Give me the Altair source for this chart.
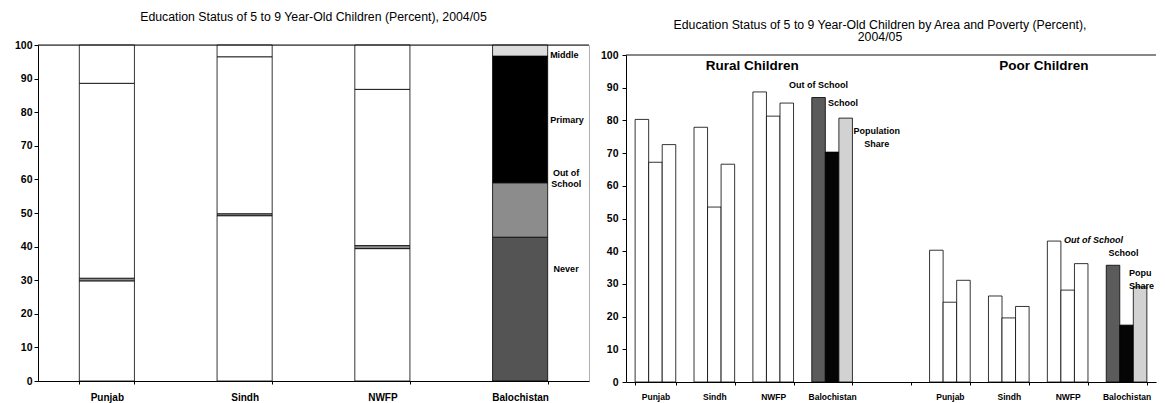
import altair as alt
import pandas as pd

# ---------------- data: left panel (stacked, percent) ----------------
provinces = ["Punjab", "Sindh", "NWFP", "Balochistan"]
segments = ["Never", "Out of School", "Primary", "Middle"]
never = [29.8, 49.2, 39.4, 42.8]
out_of_school = [0.8, 0.6, 0.9, 16.2]
primary = [58.0, 46.7, 46.5, 37.7]
middle = [11.4, 3.5, 13.2, 3.3]

left_labels = ["Middle", "Primary", "Out of\nSchool", "Never"]
left_label_y = [97.0, 77.7, 61.9, 33.3]

# ---------------- data: right panel (grouped) ----------------
groups = ["Rural", "Poor"]
group_titles = ["Rural Children", "Poor Children"]
series = ["Out of School", "School", "Population Share"]
rural_oos = [80.3, 77.9, 88.7, 87.0]
rural_school = [67.2, 53.5, 81.3, 70.3]
rural_pop = [72.6, 66.6, 85.3, 80.7]
poor_oos = [40.3, 26.3, 43.1, 35.7]
poor_school = [24.4, 19.6, 28.1, 17.4]
poor_pop = [31.1, 23.1, 36.2, 29.1]

right_notes = ["Out of School", "School", "Population\nShare"]
rural_note_y = [90.8, 85.3, 76.9]
poor_note_y = [43.4, 39.4, 33.3]
group_title_y = 96.5
frame_top = [100]

FONT = "Liberation Sans"

# ---------------- tables ----------------
seg_values = [never, out_of_school, primary, middle]
left_rows = []
for i, p in enumerate(provinces):
    for j, s in enumerate(segments):
        left_rows.append({"province": p, "segment": s, "order": j, "value": seg_values[j][i]})
left_df = pd.DataFrame(left_rows)

x_domain = [f"Rural {p}" for p in provinces] + ["gap"] + [f"Poor {p}" for p in provinces]
right_vals = {
    "Rural": [rural_oos, rural_school, rural_pop],
    "Poor": [poor_oos, poor_school, poor_pop],
}
right_rows = []
for g in groups:
    for i, p in enumerate(provinces):
        for k, s in enumerate(series):
            right_rows.append({"key": f"{g} {p}", "province": p, "series": s,
                               "value": right_vals[g][k][i]})
right_df = pd.DataFrame(right_rows)
frame_df = pd.DataFrame({"v": frame_top})

# ---------------- left chart ----------------
left_x_scale = alt.Scale(domain=provinces, paddingInner=0.6, paddingOuter=0.3)
left_y_scale = alt.Scale(domain=[0, 100], nice=False)
left_x_axis = alt.Axis(title=None, labelAngle=0, tickBand="extent", tickSize=3,
                       labelPadding=8, labelFontSize=10)
left_y_axis = alt.Axis(title=None, values=list(range(0, 101, 10)), tickSize=4,
                       labelPadding=2, labelFontSize=10.5, labelOverlap=False)

bars_left = alt.Chart(left_df).transform_calculate(
    lkey="datum.province == 'Balochistan' || datum.segment == 'Out of School' ? datum.segment : 'plain'"
).mark_bar(stroke="black", strokeWidth=0.8).encode(
    x=alt.X("province:N", scale=left_x_scale, axis=left_x_axis),
    y=alt.Y("value:Q", stack="zero", scale=left_y_scale, axis=left_y_axis),
    fill=alt.Fill("lkey:N", legend=None,
                  scale=alt.Scale(domain=segments + ["plain"],
                                  range=["#545454", "#8c8c8c", "#000000", "#dcdcdc", "#ffffff"])),
    order=alt.Order("order:Q"),
    detail="segment:N",
)

left_top = alt.Chart(frame_df).mark_rule(color="#111", strokeWidth=1).encode(
    y=alt.Y("v:Q", scale=left_y_scale, axis=left_y_axis)
)

ldf_a = pd.DataFrame({"province": ["Balochistan"] * 2, "t": left_labels[:2], "y": left_label_y[:2]})
ldf_b = pd.DataFrame({"province": ["Balochistan"] * 2, "t": left_labels[2:], "y": left_label_y[2:]})
notes_left_a = alt.Chart(ldf_a).mark_text(
    align="left", baseline="middle", dx=30, font=FONT, fontSize=9, fontWeight="bold", color="black"
).encode(x=alt.X("province:N", scale=left_x_scale, axis=left_x_axis),
         y=alt.Y("y:Q", scale=left_y_scale, axis=left_y_axis), text="t:N")
notes_left_b = alt.Chart(ldf_b).mark_text(
    align="center", baseline="middle", dx=46, font=FONT, fontSize=9, fontWeight="bold",
    color="black", lineBreak="\n", lineHeight=11
).encode(x=alt.X("province:N", scale=left_x_scale, axis=left_x_axis),
         y=alt.Y("y:Q", scale=left_y_scale, axis=left_y_axis), text="t:N")

left = alt.layer(bars_left, left_top, notes_left_a, notes_left_b).properties(
    width=551, height=336,
    view=alt.ViewBackground(stroke="#b0b0b0", strokeWidth=1),
    title=alt.TitleParams("Education Status of 5 to 9 Year-Old Children (Percent), 2004/05",
                          font=FONT, fontSize=12.3, fontWeight="normal", color="black",
                          anchor="middle", offset=17),
)

# ---------------- right chart ----------------
RW, RH = 530, 337
right_x_scale = alt.Scale(domain=x_domain, paddingInner=0.31, paddingOuter=0.155)
right_y_scale = alt.Scale(domain=[0, 100], nice=False, range=[RH, 10])
off_scale = alt.Scale(domain=series, paddingInner=0, paddingOuter=0)
right_x_axis = alt.Axis(title=None, labelAngle=0, tickBand="extent", tickSize=3,
                        labelPadding=7, labelFontSize=8.5,
                        labelExpr="datum.label == 'gap' ? '' : replace(replace(datum.label, 'Rural ', ''), 'Poor ', '')")
right_y_axis = alt.Axis(title=None, values=list(range(0, 101, 10)), tickSize=4,
                        labelPadding=4, labelFontSize=10.5, labelOverlap=False)

bars_right = alt.Chart(right_df).transform_calculate(
    rkey="datum.province == 'Balochistan' ? datum.series : 'plain'"
).mark_bar(stroke="black", strokeWidth=0.8).encode(
    x=alt.X("key:N", scale=right_x_scale, axis=right_x_axis),
    xOffset=alt.XOffset("series:N", scale=off_scale),
    y=alt.Y("value:Q", scale=right_y_scale, axis=right_y_axis),
    fill=alt.Fill("rkey:N", legend=None,
                  scale=alt.Scale(domain=series + ["plain"],
                                  range=["#5b5b5b", "#050505", "#d2d2d2", "#ffffff"])),
)

top_line = alt.Chart(frame_df).mark_rule(color="#111", strokeWidth=1).encode(
    y=alt.Y("v:Q", scale=right_y_scale, axis=right_y_axis)
)


def note(key, ser, y, text, dx, align, size=9, weight="bold", style="normal", lh=13, limit=0):
    d = pd.DataFrame({"key": [key], "series": [ser if ser else series[0]], "y": [y], "t": [text]})
    enc = dict(x=alt.X("key:N", scale=right_x_scale, axis=right_x_axis),
               y=alt.Y("y:Q", scale=right_y_scale, axis=right_y_axis), text="t:N")
    if ser is not None:
        enc["xOffset"] = alt.XOffset("series:N", scale=off_scale)
    kw = dict(align=align, baseline="middle", dx=dx, font=FONT, fontSize=size, fontWeight=weight,
              fontStyle=style, color="black", lineBreak="\n", lineHeight=lh)
    if limit:
        kw["limit"] = limit
        kw["ellipsis"] = " "
    return alt.Chart(d).mark_text(**kw).encode(**enc)


right_layers = [
    bars_right,
    top_line,
    note("Rural Sindh", None, group_title_y, group_titles[0], 38, "center", size=13.5),
    note("Poor Sindh", None, group_title_y, group_titles[1], 35, "center", size=13.5),
    note("Rural Balochistan", series[0], rural_note_y[0], right_notes[0], 0, "center"),
    note("Rural Balochistan", series[1], rural_note_y[1], right_notes[1], -4, "left"),
    note("Rural Balochistan", series[2], rural_note_y[2], right_notes[2], 31, "center"),
    note("Poor NWFP", series[0], poor_note_y[0], right_notes[0], 10, "left", style="italic"),
    note("Poor Balochistan", series[1], poor_note_y[1], right_notes[1], -3, "center"),
    note("Poor Balochistan", series[2], poor_note_y[2], right_notes[2], -11, "left", limit=27),
]

right = alt.layer(*right_layers).properties(
    width=RW, height=RH,
    view=alt.ViewBackground(strokeOpacity=0),
    title=alt.TitleParams(["Education Status of 5 to 9 Year-Old Children by Area and Poverty (Percent),", "2004/05"],
                          font=FONT, fontSize=12.3, fontWeight="normal", color="black",
                          anchor="middle", lineHeight=12, offset=2, dx=-11),
)

chart = alt.hconcat(left, right, spacing=10).resolve_scale(
    fill="independent"
).configure_axis(
    labelFont=FONT, labelFontWeight="bold", labelColor="black",
    domainColor="black", tickColor="black", grid=False
).properties(padding={"left": 5, "top": 2, "right": 0, "bottom": 0})

chart.save("out.html", embed_options={"renderer": "svg", "actions": False})
